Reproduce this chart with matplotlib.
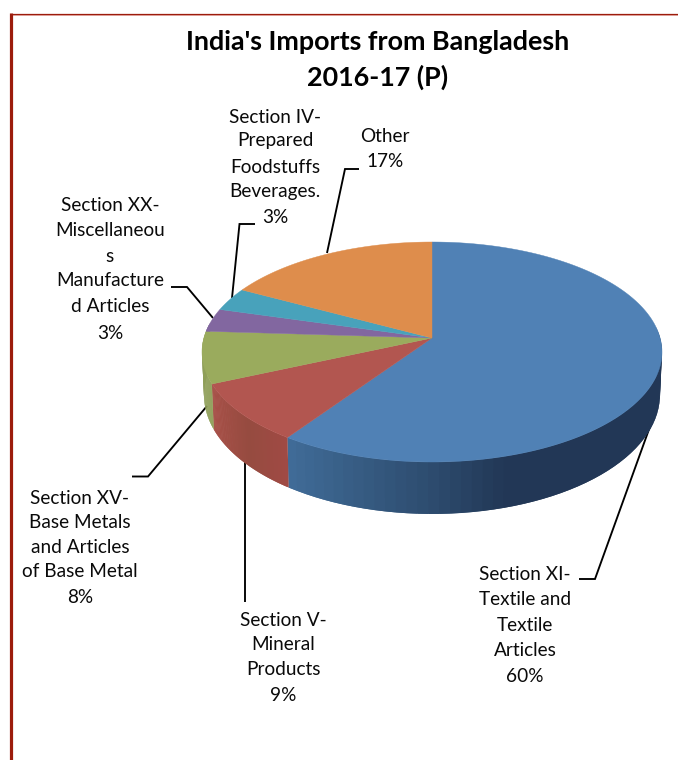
import numpy as np
import matplotlib
matplotlib.use("Agg")
import matplotlib.pyplot as plt
from matplotlib.colors import to_rgb

plt.rcParams['font.family'] = ['Lato', 'DejaVu Sans']

# ---- data
sections = ["Section XI-Textile and Textile Articles", "Section V-Mineral Products",
            "Section XV-Base Metals and Articles of Base Metal",
            "Section XX-Miscellaneous Manufactured Articles",
            "Section IV-Prepared Foodstuffs Beverages.", "Other"]
shares = [59.6, 8.8, 7.6, 3.4, 3.4, 17.2]
top_colors = ["#5081b5", "#b25650", "#9aab5d", "#8267a0", "#48a2bb", "#de8d4c"]
wall_colors = [
    [(0.0, "#426f9c"), (0.45, "#2c4a6c"), (0.62, "#223756"), (1.0, "#223756")],
    [(0.0, "#a85048"), (0.5, "#964b40"), (1.0, "#a04a44")],
    [(0.0, "#8f9f58"), (1.0, "#8f9f58")],
    [(0.0, "#6f5788"), (1.0, "#6f5788")],
    [(0.0, "#3d8aa0"), (1.0, "#3d8aa0")],
    [(0.0, "#bd7841"), (1.0, "#bd7841")],
]

title_lines = ["India's Imports from Bangladesh", "2016-17 (P)"]
label_lines = [
    ["Section XI-", "Textile and", "Textile", "Articles", "60%"],
    ["Section V-", "Mineral", "Products", "9%"],
    ["Section XV-", "Base Metals", "and Articles", "of Base Metal", "8%"],
    ["Section XX-", "Miscellaneou", "s", "Manufacture", "d Articles", "3%"],
    ["Section IV-", "Prepared", "Foodstuffs", "Beverages.", "3%"],
    ["Other", "17%"],
]

# ---- layout (pixels of the 678x760 picture)
label_x = [525, 283, 80, 110, 275, 385]
label_y = [[574.5, 599.5, 625.5, 650.5, 676.5],
           [620.5, 644.5, 669.5, 695.5],
           [498.5, 522.5, 547.5, 571.5, 597.5],
           [205.5, 230.5, 256.5, 280.5, 306.5, 333.5],
           [117.5, 140.5, 167.5, 191.5, 217.5],
           [136.5, 161.5]]
leaders = [[(652, 421), (595, 579), (579, 579)],
           [(245, 462), (245, 602)],
           [(207, 406), (148, 476.5), (132, 476.5)],
           [(213, 318), (187, 287), (171, 287)],
           [(232, 298), (239.5, 224), (255, 224)],
           [(327, 253), (345, 169), (359, 169)]]
cx, cy, rx, ry = 432.0, 352.0, 230.0, 110.0      # top rim
bcy, brx, bry = 395.0, 228.0, 119.0              # bottom rim
apex = (432.0, 338.0)
persp = 0.88

fig = plt.figure(figsize=(6.78, 7.6), dpi=100)
ax = fig.add_axes([0, 0, 1, 1])
ax.set_xlim(0, 678)
ax.set_ylim(760, 0)
ax.axis("off")


def rim_angle(theta):
    """clockwise share angle (rad, from top) -> projected rim parameter"""
    half = np.asarray(theta) / 2.0
    return 2.0 * np.arctan2(persp * np.sin(half), np.cos(half))


def unwrap(phi):
    return np.where(phi < 0, phi + 2 * np.pi, phi)


edges = np.cumsum([0.0] + shares) / sum(shares) * 2 * np.pi

# side wall: slices are painted last-to-first so the blue one stays on top of its seam
lo, hi = np.radians(75), np.radians(285)
for i in range(len(shares)):
    t = np.linspace(edges[i], edges[i + 1], 90)
    p = unwrap(rim_angle(t))
    p = np.sort(p[(p >= lo) & (p <= hi)])
    if p.size < 2:
        continue
    xs = cx + rx * np.sin(p)
    stops = wall_colors[i]
    pos = [s[0] for s in stops]
    rgb = np.array([to_rgb(s[1]) for s in stops])
    frac = (xs - xs.min()) / max(xs.max() - xs.min(), 1)
    # paint from the far end so each quad overlaps the previous one and hides seams
    for k in range(p.size - 2, -1, -1):
        a, b = p[k], p[min(k + 2, p.size - 1)]
        col = [np.interp(frac[k], pos, rgb[:, c]) for c in range(3)]
        ax.fill([cx + rx * np.sin(a), cx + rx * np.sin(b), cx + brx * np.sin(b), cx + brx * np.sin(a)],
                [cy - ry * np.cos(a), cy - ry * np.cos(b), bcy - bry * np.cos(b), bcy - bry * np.cos(a)],
                color=col, lw=0, zorder=2 + 0.001 * i)

# leader lines
for pts in leaders:
    ax.plot(*zip(*pts), color="black", lw=1.35, zorder=1.5,
            solid_joinstyle="miter", solid_capstyle="butt")

# top face
for i in range(len(shares)):
    t = np.linspace(edges[i], edges[i + 1], 300)
    p = rim_angle(t)
    ax.fill(np.r_[apex[0], cx + rx * np.sin(p)], np.r_[apex[1], cy - ry * np.cos(p)],
            color=top_colors[i], lw=0.3, zorder=3)

# labels
for x, ys, lines in zip(label_x, label_y, label_lines):
    for y, s in zip(ys, lines):
        ax.text(x, y, s, ha="center", va="center", fontsize=13.7, color="#0a0a0a", zorder=5)

for y, s in zip([42.5, 77], title_lines):
    ax.text(378, y, s, ha="center", va="center", fontsize=19.4, fontweight="bold", color="black")

# frame of the page
ax.plot([10, 678], [14.0, 14.0], color="#9c1c0c", lw=0.9, solid_capstyle="butt")
ax.plot([10, 678], [15.0, 15.0], color="#d89088", lw=0.6, solid_capstyle="butt")
ax.plot([11.4, 11.4], [13.4, 760], color="#9c1c0c", lw=2.3, solid_capstyle="butt")

fig.savefig("out.png", dpi=100)
